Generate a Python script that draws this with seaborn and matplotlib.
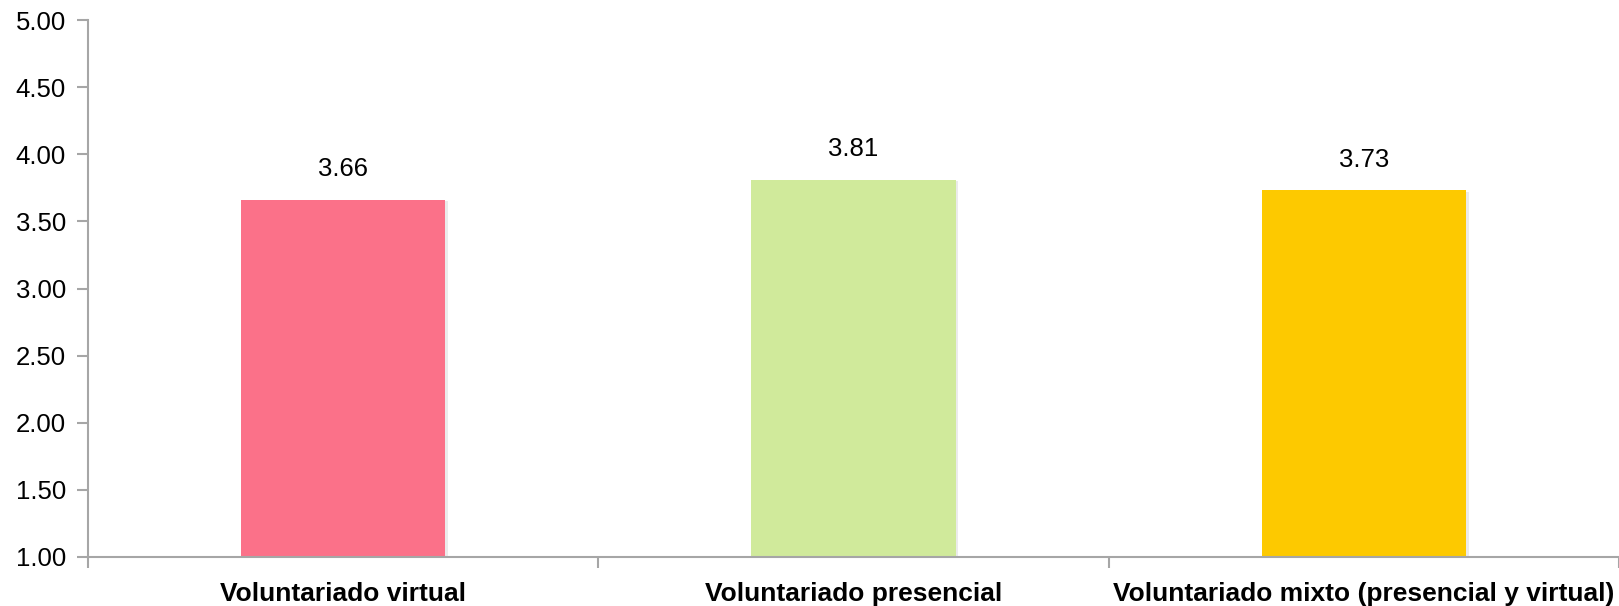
import matplotlib
matplotlib.use("Agg")
import matplotlib.pyplot as plt
from matplotlib import font_manager
from matplotlib import patheffects as pe
from matplotlib.ticker import FixedLocator, MultipleLocator
import seaborn as sns
import pandas as pd

categories = ["Voluntariado virtual", "Voluntariado presencial",
              "Voluntariado mixto (presencial y virtual)"]
values = [3.66, 3.81, 3.73]
bar_colors = ["#FB7189", "#D0EA9B", "#FDC900"]
y_ticks = [1.0, 1.5, 2.0, 2.5, 3.0, 3.5, 4.0, 4.5, 5.0]

sns.set_theme(style="white")
names = {f.name for f in font_manager.fontManager.ttflist}
narrow = "Liberation Sans Narrow" if "Liberation Sans Narrow" in names else "Liberation Sans"
plt.rcParams["font.family"] = ["Liberation Sans", "DejaVu Sans"]

df = pd.DataFrame({"cat": categories, "val": values})

fig = plt.figure(figsize=(16.19, 6.06), dpi=100)
ax = fig.add_axes([88 / 1619, 1 - 557 / 606, 1 - 88 / 1619, (557 - 20) / 606])

sns.barplot(data=df, x="cat", y="val", hue="cat", palette=bar_colors,
            width=0.4, saturation=1, legend=False, linewidth=0, ax=ax, zorder=2)

# faint drop shadow on the bars
for patch in ax.patches:
    patch.set_path_effects([
        pe.SimplePatchShadow(offset=(2, -1), shadow_rgbFace="#000000", alpha=0.08),
        pe.Normal(),
    ])

ax.set_ylim(1, 5)
ax.set_xlim(-0.5, len(categories) - 0.5)
ax.yaxis.set_major_locator(FixedLocator(y_ticks))
ax.set_yticklabels([f"{t:.2f}" for t in y_ticks])
ax.set_xlabel("")
ax.set_ylabel("")

for spine in ["top", "right"]:
    ax.spines[spine].set_visible(False)
for spine in ["left", "bottom"]:
    ax.spines[spine].set_color("#A6A6A6")
    ax.spines[spine].set_linewidth(1.5)
    ax.spines[spine].set_zorder(3)

ax.tick_params(axis="y", which="major", length=8, width=1.5, color="#A6A6A6",
               labelsize=18.5, labelcolor="black", left=True, pad=8)
ax.tick_params(axis="x", which="major", length=0, labelsize=19, pad=18,
               labelcolor="black")
ax.xaxis.set_minor_locator(MultipleLocator(1.0, offset=0.5))
ax.tick_params(axis="x", which="minor", length=8, width=1.5, color="#A6A6A6",
               bottom=True)
for lbl in ax.get_xticklabels():
    lbl.set_fontweight("bold")
    lbl.set_family([narrow, "DejaVu Sans"])
    lbl.set_fontsize(19)

for i, v in enumerate(values):
    ax.annotate(f"{v:.2f}", xy=(i, v), xytext=(0, 13.5), textcoords="offset points",
                ha="center", va="bottom", fontsize=18.5, color="black")

fig.savefig("out.png", dpi=100, facecolor="white")
